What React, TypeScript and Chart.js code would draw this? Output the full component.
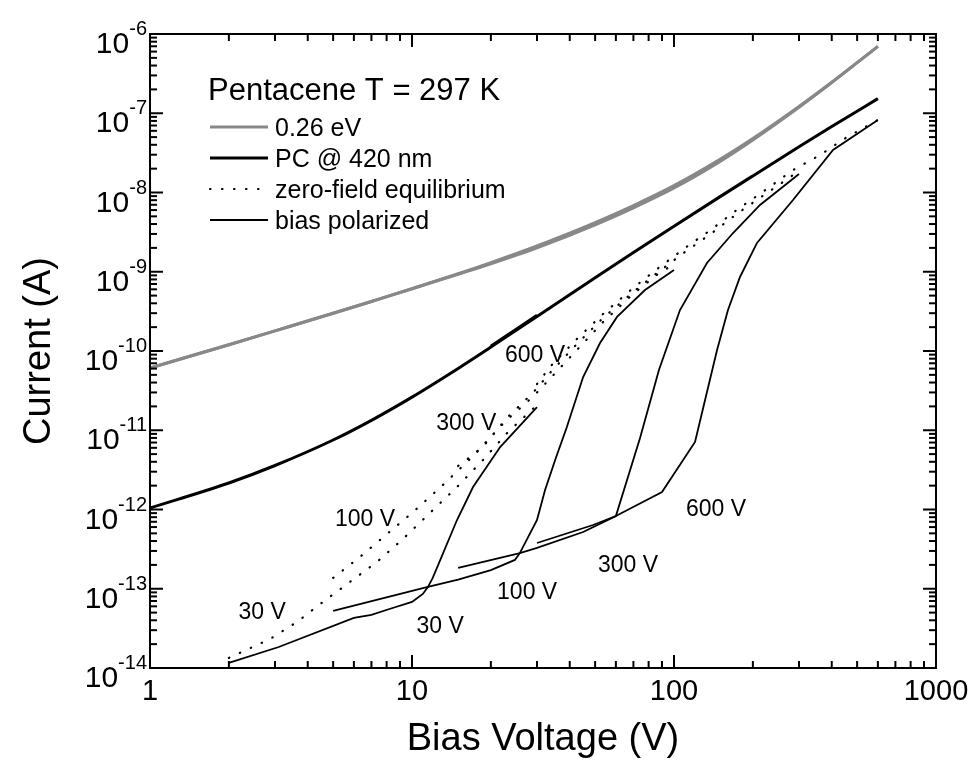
import { useEffect, useRef } from "react";
import { Chart, registerables } from "chart.js";

Chart.register(...registerables);

// ---------- data (Bias voltage in V, current in A) ----------
// 0.26 eV : two nearly coincident gray curves
const grayVolts = [1, 2, 3, 5, 7, 10, 15, 20, 30, 50, 70, 100, 150, 200, 300, 400, 500, 600];
const grayCurrentA = [6.1e-11, 1.2e-10, 1.795e-10, 2.99e-10, 4.22e-10, 6.11e-10, 9.46e-10, 1.306e-9, 2.12e-9, 4.17e-9, 6.85e-9, 1.222e-8, 2.62e-8, 4.79e-8, 1.216e-7, 2.46e-7, 4.35e-7, 6.97e-7];
const grayCurrentB = [6.1e-11, 1.2e-10, 1.795e-10, 2.99e-10, 4.22e-10, 6.11e-10, 9.3e-10, 1.26e-9, 2.0e-9, 3.9e-9, 6.4e-9, 1.14e-8, 2.47e-8, 4.6e-8, 1.19e-7, 2.44e-7, 4.35e-7, 6.97e-7];

// PC @ 420 nm
const pcVolts = [1, 2, 3, 5, 7, 10, 15, 20, 30, 50, 70, 100, 150, 200, 300, 400, 600];
const pcCurrent = [1.045e-12, 2.16e-12, 3.59e-12, 7.53e-12, 1.334e-11, 2.62e-11, 6.03e-11, 1.12e-10, 2.73e-10, 8.39e-10, 1.746e-9, 3.76e-9, 8.87e-9, 1.62e-8, 3.77e-8, 6.79e-8, 1.53e-7];
const pcSegVolts = [20, 25, 30];
const pcSegCurrent = [1.148e-10, 1.884e-10, 2.82e-10];

// zero-field equilibrium (dotted)
const z30Volts = [2, 2.87, 3.64, 4.57, 5.8, 7.35, 9.24, 11.7, 14.85, 18.66, 23.25, 30];
const z30Current = [1.34e-14, 2.32e-14, 3.81e-14, 6.81e-14, 1.22e-13, 2.18e-13, 4.25e-13, 9.03e-13, 1.92e-12, 4.21e-12, 9.5e-12, 2.08e-11];
const z100Volts = [5, 6.33, 8.03, 10.1, 13, 16.36, 23, 28.9, 36.7, 42.6, 53.6, 69.1, 86.9, 100];
const z100Current = [1.37e-13, 2.52e-13, 4.91e-13, 9.3e-13, 1.98e-12, 4.09e-12, 1.35e-11, 2.63e-11, 6.1e-11, 1.03e-10, 2.32e-10, 5.09e-10, 9.37e-10, 1.25e-9];
const z300Volts = [15, 18.5, 23, 28.9, 33.6, 42.6, 53.6, 69.1, 86.1, 110.2, 139.6, 175.5, 226.4, 300];
const z300Current = [3.54e-12, 5.97e-12, 1.43e-11, 2.95e-11, 5.28e-11, 1.225e-10, 2.61e-10, 5.39e-10, 9.64e-10, 1.78e-9, 3.08e-9, 5.51e-9, 9.86e-9, 1.87e-8];
const z600Volts = [30, 33.6, 42.6, 53.6, 69.1, 86.1, 110.2, 139.6, 175.5, 226.4, 284.6, 360.8, 457.5, 600];
const z600Current = [3.83e-11, 6.28e-11, 1.42e-10, 2.93e-10, 6.06e-10, 1.08e-9, 2.0e-9, 3.46e-9, 6.19e-9, 1.11e-8, 1.92e-8, 2.97e-8, 5.01e-8, 8.22e-8];

// bias polarized (thin solid)
const p30Volts = [2, 3.1, 6, 7, 8.2, 10, 11, 11.5, 12, 14.85, 17.1, 21.7, 30];
const p30Current = [1.16e-14, 1.84e-14, 4.28e-14, 4.67e-14, 5.55e-14, 6.81e-14, 8.59e-14, 1.05e-13, 1.37e-13, 7.37e-13, 1.92e-12, 6.14e-12, 1.96e-11];
const p100Volts = [5, 11.4, 15, 20, 24.7, 25.8, 30, 32.2, 35.4, 39, 45, 52.2, 60.6, 77.5, 100];
const p100Current = [5.24e-14, 1.05e-13, 1.3e-13, 1.72e-13, 2.31e-13, 2.82e-13, 7.37e-13, 1.76e-12, 4.47e-12, 1.1e-11, 4.7e-11, 1.26e-10, 2.69e-10, 5.88e-10, 1.05e-9];
const p300Volts = [15, 25.8, 30, 45, 60, 74.2, 87.6, 105.4, 133.6, 168, 213, 300];
const p300Current = [1.83e-13, 2.82e-13, 3.27e-13, 5.2e-13, 8.28e-13, 7.98e-12, 5.76e-11, 3.29e-10, 1.29e-9, 3.08e-9, 6.96e-9, 1.71e-8];
const p600Volts = [30, 49.1, 60, 90, 120.3, 132.5, 146, 160.7, 178.6, 207.4, 284.6, 404.5, 600];
const p600Current = [3.78e-13, 6.37e-13, 8.28e-13, 1.66e-12, 7.11e-12, 2.7e-11, 1.03e-10, 3.29e-10, 8.59e-10, 2.31e-9, 8.04e-9, 3.44e-8, 8.22e-8];

// in-plot voltage labels
const labelTexts = ["30 V", "100 V", "300 V", "600 V", "30 V", "100 V", "300 V", "600 V"];
const labelVolts = [2.68, 6.62, 16.1, 29.5, 12.8, 27.5, 66.8, 144.7];
const labelCurrents = [4.94e-14, 7.37e-13, 1.2e-11, 8.65e-11, 3.29e-14, 8.84e-14, 1.94e-13, 9.86e-13];

// axes
const xTickValues = [1, 10, 100, 1000];
const xTickLabels = ["1", "10", "100", "1000"];
const yTickExponents = [-14, -13, -12, -11, -10, -9, -8, -7, -6];
const xTitle = "Bias Voltage (V)";
const yTitle = "Current (A)";

// legend
const legendTitle = "Pentacene T = 297 K";
const legendLabels = ["0.26 eV", "PC @ 420 nm", "zero-field equilibrium", "bias polarized"];

const FONT = '"Liberation Sans", Arial, Helvetica, sans-serif';
const GRAY = "#888888";

function pts(xs: number[], ys: number[]) {
  return xs.map((x, i) => ({ x, y: ys[i] }));
}

const decorPlugin = {
  id: "decor",
  afterDraw(chart: any) {
    const { ctx, chartArea: a, scales } = chart;
    const xs = scales.x;
    const ys = scales.y;
    ctx.save();
    ctx.strokeStyle = "#000";
    ctx.fillStyle = "#000";
    ctx.lineWidth = 2;
    ctx.lineCap = "butt";
    const seg = (x1: number, y1: number, x2: number, y2: number) => {
      ctx.beginPath();
      ctx.moveTo(x1, y1);
      ctx.lineTo(x2, y2);
      ctx.stroke();
    };
    // frame
    ctx.strokeRect(a.left, a.top, a.right - a.left, a.bottom - a.top);
    // x ticks (inward, mirrored)
    for (let d = 0; d < 3; d++) {
      for (let m = 1; m <= 9; m++) {
        const px = xs.getPixelForValue(Math.pow(10, d) * m);
        const len = m === 1 ? 13 : 7;
        seg(px, a.bottom, px, a.bottom - len);
        seg(px, a.top, px, a.top + len);
      }
    }
    // y ticks
    for (let e = -14; e < -6; e++) {
      for (let m = 1; m <= 9; m++) {
        const py = ys.getPixelForValue(m * Math.pow(10, e));
        const len = m === 1 ? 13 : 7;
        seg(a.left, py, a.left + len, py);
        seg(a.right, py, a.right - len, py);
      }
    }
    // x tick labels
    ctx.font = `29px ${FONT}`;
    ctx.textAlign = "center";
    ctx.textBaseline = "alphabetic";
    xTickValues.forEach((v, i) => {
      ctx.fillText(xTickLabels[i], xs.getPixelForValue(v), a.bottom + 32);
    });
    // y tick labels: 10^e
    yTickExponents.forEach((e) => {
      const py = ys.getPixelForValue(Math.pow(10, e));
      const expStr = String(e);
      ctx.font = `20px ${FONT}`;
      const ew = ctx.measureText(expStr).width;
      const right = a.left - 3;
      ctx.textAlign = "left";
      ctx.fillText(expStr, right - ew, py + 1);
      ctx.font = `30px ${FONT}`;
      ctx.textAlign = "right";
      ctx.fillText("10", right - ew, py + 19);
    });
    // axis titles
    ctx.font = `38px ${FONT}`;
    ctx.textAlign = "center";
    ctx.textBaseline = "middle";
    ctx.fillText(xTitle, (a.left + a.right) / 2, 740);
    ctx.save();
    ctx.translate(40, (a.top + a.bottom) / 2);
    ctx.rotate(-Math.PI / 2);
    ctx.fillText(yTitle, 0, 0);
    ctx.restore();

    // in-plot labels
    ctx.font = `23px ${FONT}`;
    ctx.textAlign = "center";
    ctx.textBaseline = "middle";
    labelTexts.forEach((t, i) => {
      ctx.fillText(t, xs.getPixelForValue(labelVolts[i]), ys.getPixelForValue(labelCurrents[i]));
    });

    // legend
    const lx = a.left + 60;
    ctx.textAlign = "left";
    ctx.textBaseline = "alphabetic";
    ctx.font = `31px ${FONT}`;
    ctx.fillText(legendTitle, lx - 2, a.top + 66);
    const rowY = [a.top + 93, a.top + 124, a.top + 155, a.top + 186];
    const styles = [
      { c: GRAY, w: 3, dash: [] as number[], cap: "butt" },
      { c: "#000", w: 3, dash: [] as number[], cap: "butt" },
      { c: "#000", w: 2.2, dash: [0.5, 11.5], cap: "round" },
      { c: "#000", w: 2, dash: [] as number[], cap: "butt" },
    ];
    legendLabels.forEach((t, i) => {
      const st = styles[i];
      ctx.save();
      ctx.strokeStyle = st.c;
      ctx.lineWidth = st.w;
      ctx.lineCap = st.cap;
      ctx.setLineDash(st.dash);
      seg(lx, rowY[i], lx + 58, rowY[i]);
      ctx.restore();
      ctx.font = `25px ${FONT}`;
      ctx.fillStyle = "#000";
      ctx.fillText(t, lx + 65, rowY[i] + 9);
    });
    ctx.restore();
  },
};

export default function App() {
  const ref = useRef<HTMLCanvasElement | null>(null);
  useEffect(() => {
    if (!ref.current) return;
    const dotted = (xs: number[], ys: number[]) => ({
      data: pts(xs, ys),
      borderColor: "#000",
      borderWidth: 2.2,
      borderDash: [0.5, 11.5],
      borderCapStyle: "round",
      pointRadius: 0,
      tension: 0,
    });
    const thin = (xs: number[], ys: number[]) => ({
      data: pts(xs, ys),
      borderColor: "#000",
      borderWidth: 1.8,
      pointRadius: 0,
      tension: 0,
    });
    const thick = (xs: number[], ys: number[], c: string) => ({
      data: pts(xs, ys),
      borderColor: c,
      borderWidth: 3,
      pointRadius: 0,
      cubicInterpolationMode: "monotone",
    });
    const chart = new Chart(ref.current, {
      type: "line",
      data: {
        datasets: [
          thick(grayVolts, grayCurrentA, GRAY),
          thick(grayVolts, grayCurrentB, GRAY),
          thick(pcVolts, pcCurrent, "#000"),
          thick(pcSegVolts, pcSegCurrent, "#000"),
          dotted(z30Volts, z30Current),
          dotted(z100Volts, z100Current),
          dotted(z300Volts, z300Current),
          dotted(z600Volts, z600Current),
          thin(p30Volts, p30Current),
          thin(p100Volts, p100Current),
          thin(p300Volts, p300Current),
          thin(p600Volts, p600Current),
        ] as any,
      },
      options: {
        animation: false,
        responsive: false,
        layout: { padding: { left: 150, top: 34, right: 43, bottom: 115 } },
        plugins: { legend: { display: false }, tooltip: { enabled: false } },
        scales: {
          x: { type: "logarithmic", min: 1, max: 1000, display: false },
          y: { type: "logarithmic", min: 1e-14, max: 1e-6, display: false },
        },
      },
      plugins: [decorPlugin],
    });
    return () => chart.destroy();
  }, []);
  return (
    <div style={{ position: "absolute", left: 0, top: 0, width: 979, height: 783, background: "#fff" }}>
      <canvas ref={ref} width={979} height={783} style={{ display: "block" }} />
    </div>
  );
}
